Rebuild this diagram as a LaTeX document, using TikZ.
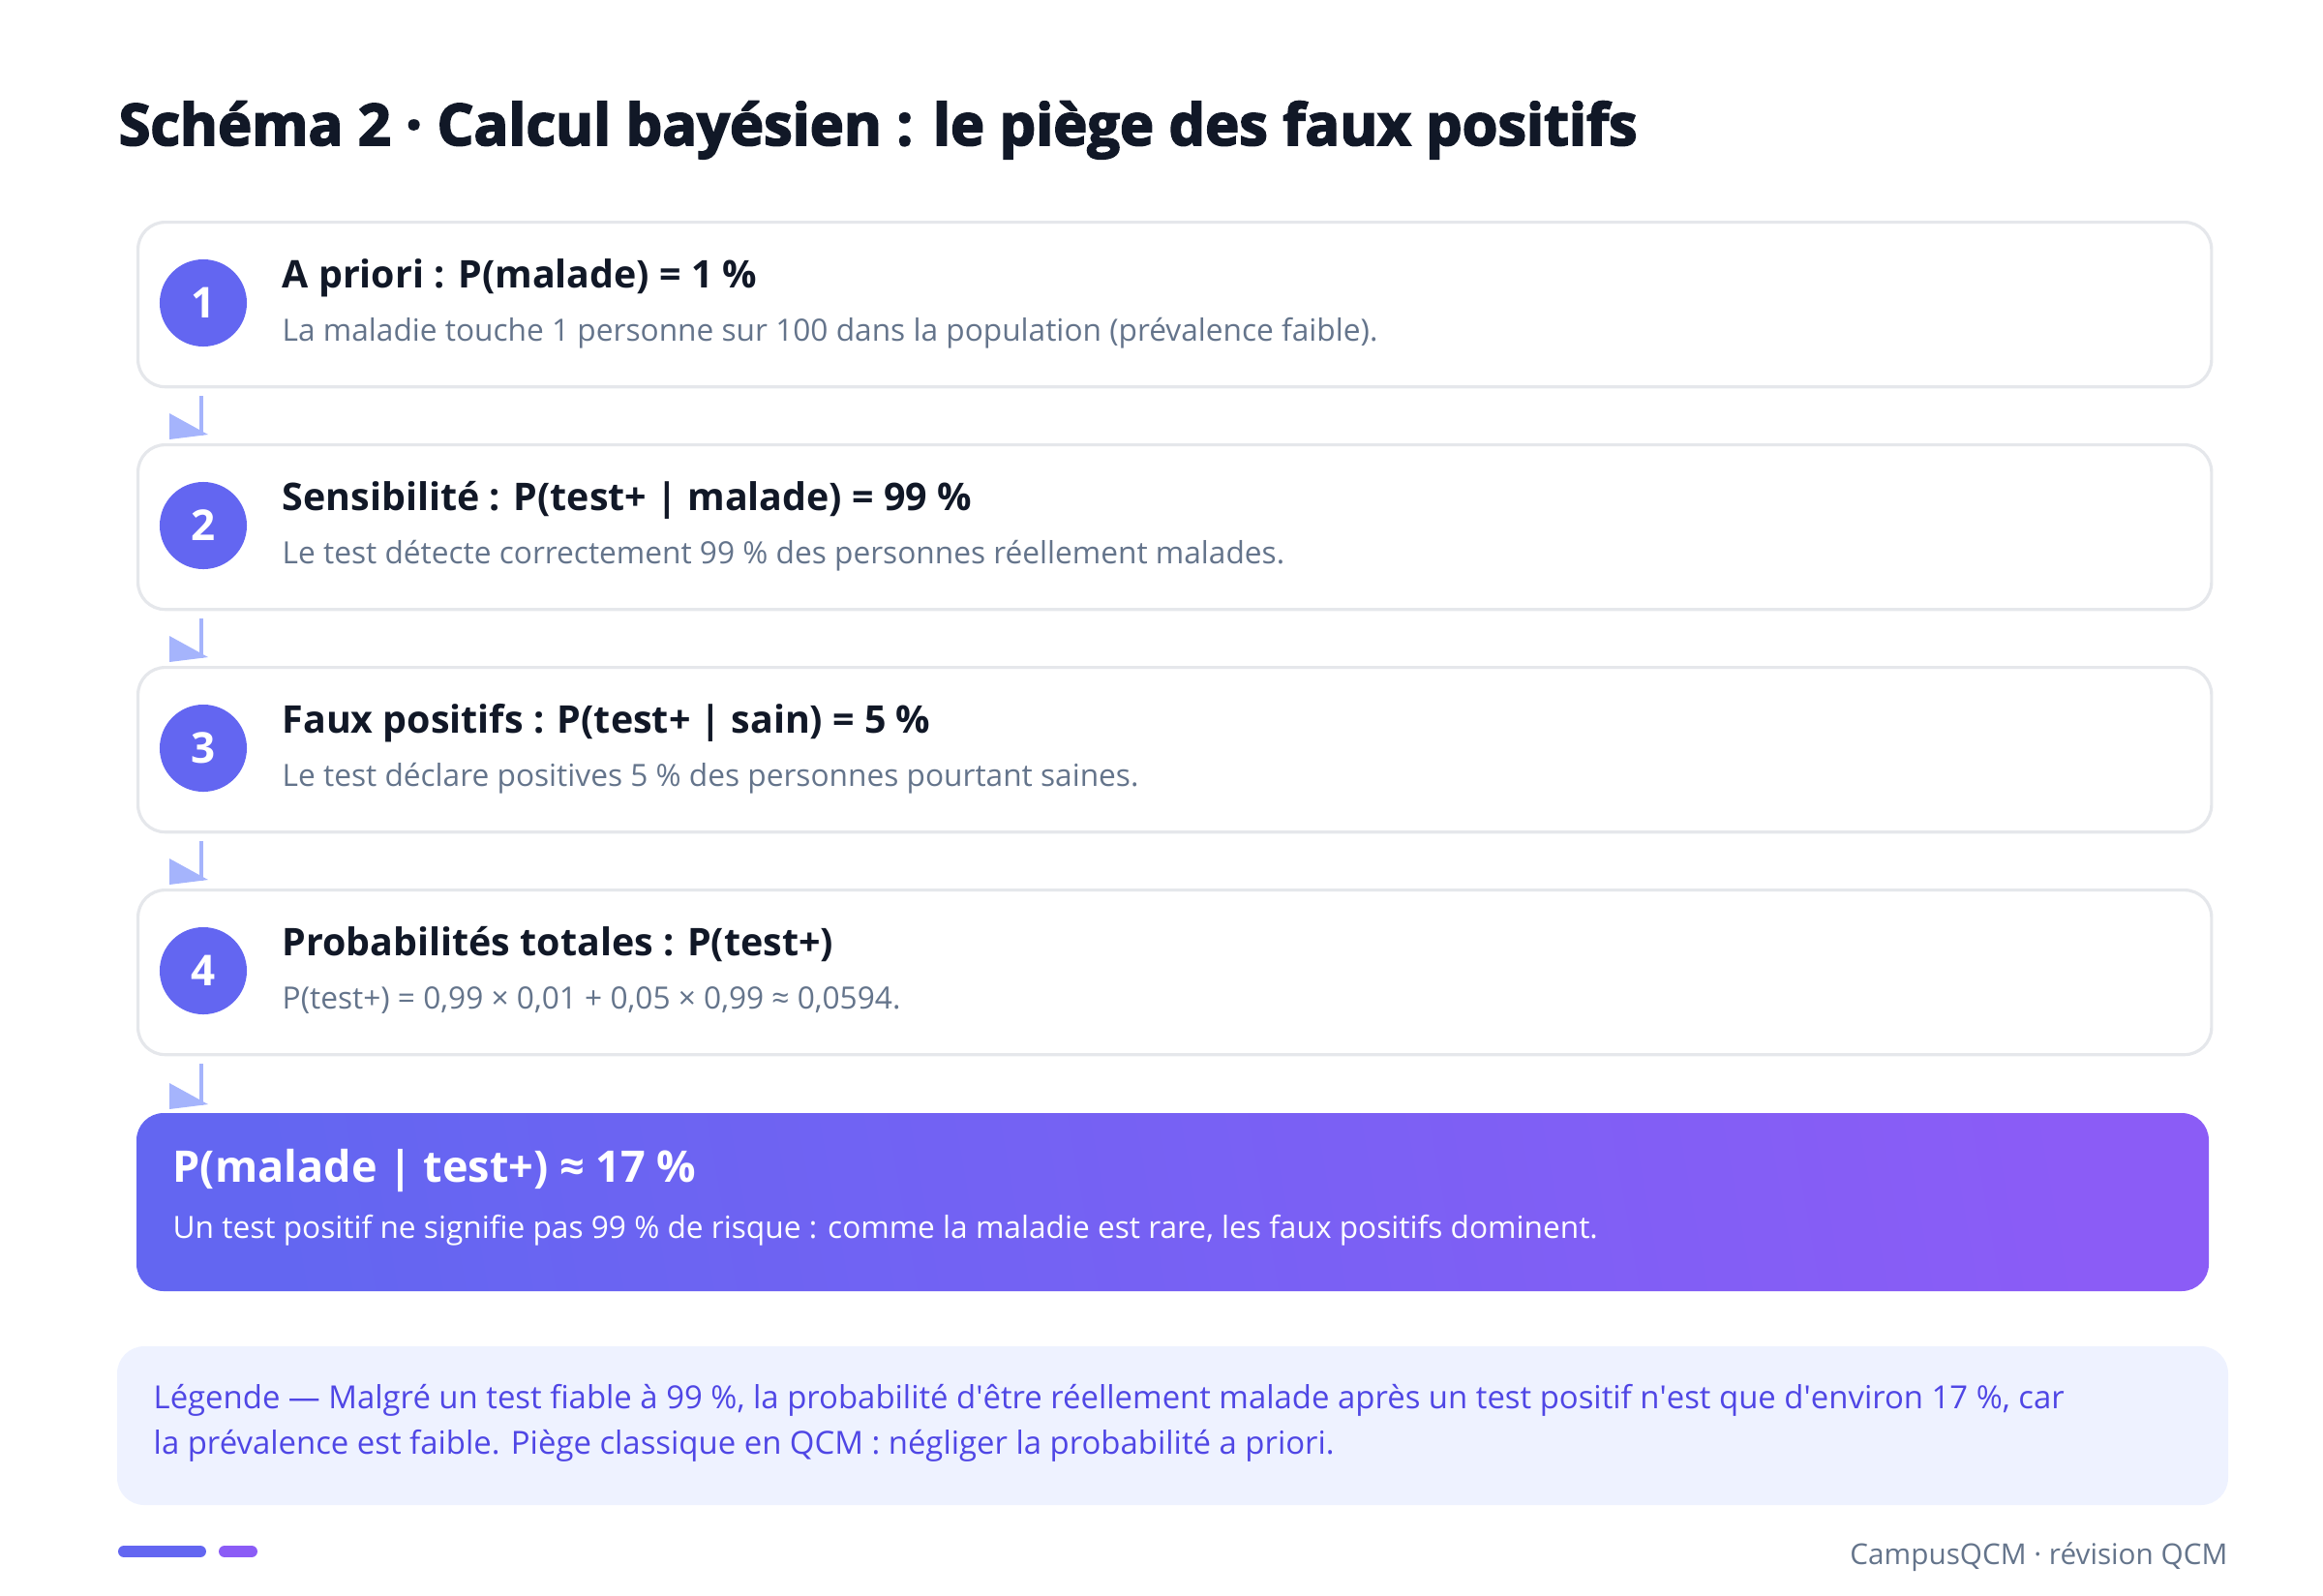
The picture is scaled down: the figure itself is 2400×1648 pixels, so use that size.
\documentclass[tikz,border=0pt]{standalone}
\usepackage{fontspec}
\setmainfont{Open Sans}
\newfontfamily\heavyfont{Open Sans}[BoldFeatures={FakeBold=3}]
\usetikzlibrary{positioning,calc}
\definecolor{ink}{HTML}{111827}
\definecolor{muted}{HTML}{64748B}
\definecolor{indigo}{HTML}{6366F1}
\definecolor{violet}{HTML}{8B5CF6}
\definecolor{linkc}{HTML}{A5B4FC}
\definecolor{edge}{HTML}{E5E7EB}
\definecolor{legendbg}{HTML}{EEF2FF}
\definecolor{legendtx}{HTML}{4F46E5}
\tikzset{font=\small}

\begin{document}
\begin{tikzpicture}[x=0.01cm, y=-0.01cm,
	stepbox/.style={draw=edge, line width=0.9pt, fill=white, rounded corners=0.28cm,
		minimum width=21.41cm, minimum height=1.7cm, anchor=north west, inner sep=0pt},
	numdot/.style={circle, fill=indigo, text=white, minimum size=0.9cm, inner sep=0pt,
		font=\fontsize{12.5}{14}\selectfont\bfseries},
	head/.style={anchor=base west, inner sep=0pt, text=ink, font=\fontsize{11.2}{14}\selectfont\bfseries},
	sub/.style={anchor=base west, inner sep=0pt, text=muted, font=\fontsize{9}{10}\selectfont},
	link/.style={draw=linkc, line width=1.4pt},
	tip/.style={fill=linkc}]
	\useasboundingbox (0,0) rectangle (2400,1648);

	% title
	\node[anchor=base west, inner sep=0pt, text=ink, font=\fontsize{16.9}{22}\selectfont\heavyfont\bfseries]
		(title) at (122,150) {Schéma 2 · Calcul bayésien : le piège des faux positifs};

	% steps
	\node[stepbox] (box1) at (141,228) {};
	\node[stepbox] (box2) at (141,458) {};
	\node[stepbox] (box3) at (141,688) {};
	\node[stepbox] (box4) at (141,918) {};

	\node[numdot] (n1) at (210,313) {1};
	\node[numdot] (n2) at (210,543) {2};
	\node[numdot] (n3) at (210,773) {3};
	\node[numdot] (n4) at (210,1003) {4};

	\node[head] (h1) at (291,297) {A priori : P(malade) = 1 \%};
	\node[sub ] (s1) at (291,352) {La maladie touche 1 personne sur 100 dans la population (prévalence faible).};
	\node[head] (h2) at (291,527) {Sensibilité : P(test+ | malade) = 99 \%};
	\node[sub ] (s2) at (291,582) {Le test détecte correctement 99 \% des personnes réellement malades.};
	\node[head] (h3) at (291,757) {Faux positifs : P(test+ | sain) = 5 \%};
	\node[sub ] (s3) at (291,812) {Le test déclare positives 5 \% des personnes pourtant saines.};
	\node[head] (h4) at (291,987) {Probabilités totales : P(test+)};
	\node[sub ] (s4) at (291,1042) {P(test+) = 0,99 × 0,01 + 0,05 × 0,99 ≈ 0,0594.};

	% result
	\shade[left color=indigo, right color=violet, shading angle=100, rounded corners=0.28cm]
		(141,1150) rectangle (2282,1334);
	\node[anchor=north west, minimum width=21.41cm, minimum height=1.84cm, inner sep=0pt]
		(res) at (141,1150) {};
	\node[head, text=white, font=\fontsize{12.8}{14}\selectfont\bfseries]
		(rh) at (178,1221) {P(malade | test+) ≈ 17 \%};
	\node[sub, text=white, font=\fontsize{9}{10}\selectfont]
		(rs) at (178,1279) {Un test positif ne signifie pas 99 \% de risque : comme la maladie est rare, les faux positifs dominent.};

	% links
	\draw[link] ($(box1.south -| n1)+(-2,8)$) -- ($(box2.north -| n2)+(-2,-8)$);
	\draw[link] ($(box2.south -| n2)+(-2,8)$) -- ($(box3.north -| n3)+(-2,-8)$);
	\draw[link] ($(box3.south -| n3)+(-2,8)$) -- ($(box4.north -| n4)+(-2,-8)$);
	\draw[link] ($(box4.south -| n4)+(-2,8)$) -- ($(res.north -| n4)+(-2,-8)$);
	\fill[tip] ($(box2.north -| n2)+(-35,-31)$) -- ($(box2.north -| n2)+(5,-9)$) -- ($(box2.north -| n2)+(-35,-4)$) -- cycle;
	\fill[tip] ($(box3.north -| n3)+(-35,-31)$) -- ($(box3.north -| n3)+(5,-9)$) -- ($(box3.north -| n3)+(-35,-4)$) -- cycle;
	\fill[tip] ($(box4.north -| n4)+(-35,-31)$) -- ($(box4.north -| n4)+(5,-9)$) -- ($(box4.north -| n4)+(-35,-4)$) -- cycle;
	\fill[tip] ($(res.north -| n4)+(-35,-31)$) -- ($(res.north -| n4)+(5,-9)$) -- ($(res.north -| n4)+(-35,-4)$) -- cycle;

	% legend
	\fill[legendbg, rounded corners=0.28cm] (121,1391) rectangle (2302,1555);
	\node[sub, text=legendtx, font=\fontsize{9.35}{13.2}\selectfont, align=left, anchor=north west]
		(leg) at (158,1430) {Légende — Malgré un test fiable à 99 \%, la probabilité d\textquotesingle être réellement malade après un test positif n\textquotesingle est que d\textquotesingle environ 17 \%, car\\
		la prévalence est faible. Piège classique en QCM : négliger la probabilité a priori.};

	% footer
	\draw[indigo, line width=3.4pt, line cap=round] (128,1603) -- (207,1603);
	\draw[violet, line width=3.4pt, line cap=round] (232,1603) -- (260,1603);
	\node[anchor=base east, inner sep=0pt, text=muted, font=\fontsize{8.45}{10}\selectfont]
		(foot) at (2302,1616) {CampusQCM · révision QCM};
\end{tikzpicture}
\end{document}
